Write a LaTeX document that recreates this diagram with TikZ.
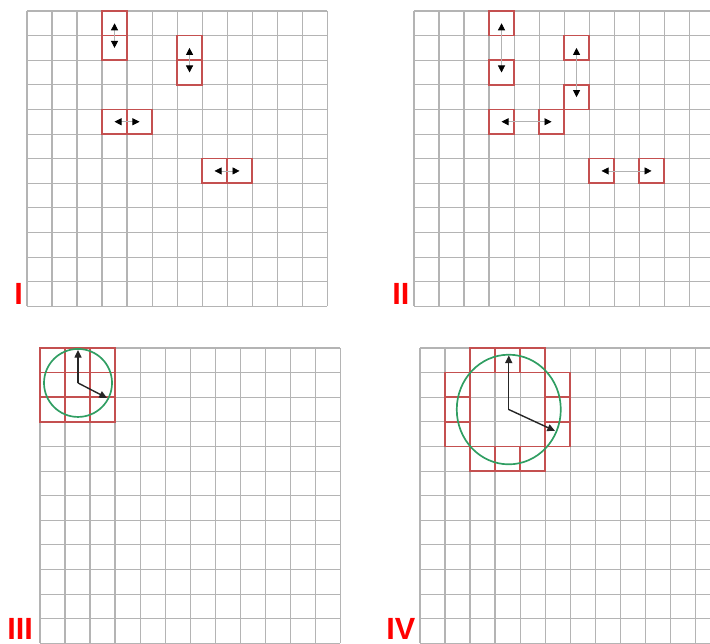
\documentclass[tikz,border=0pt]{standalone}
\usepackage{fontspec}
\setsansfont{Liberation Sans}
\usetikzlibrary{positioning,arrows.meta}
\definecolor{gridgray}{RGB}{180,180,180}
\definecolor{boxred}{RGB}{196,80,80}
\definecolor{ringgreen}{RGB}{48,158,98}
\definecolor{tagred}{RGB}{255,0,0}

\begin{document}
\begin{tikzpicture}[
  x=0.025cm, y=-0.025cm,
  gridline/.style={draw=gridgray, line width=0.75pt},
  cellbox/.style={draw=boxred, line width=1.2pt, inner sep=0pt, outer sep=0pt,
                  minimum width=0.625cm, minimum height=0.615cm},
  swaparr/.style={{Triangle[color=black, length=5pt, width=5pt]}-{Triangle[color=black, length=5pt, width=5pt]},
                  draw=black!30, line width=0.5pt},
  ring/.style={draw=ringgreen, line width=1.2pt},
  hand/.style={-{Triangle[length=5.5pt, width=5pt]}, draw=black!85, line width=1pt},
  tag/.style={text=tagred, inner sep=0pt, anchor=base west,
              font=\sffamily\bfseries\fontsize{21.8}{22}\selectfont},
  panel/.style={x=0.625cm, y=-0.615cm}
]
\useasboundingbox (0,0) rectangle (710,644);
\clip (0,0) rectangle (710,644);

% panel I
\begin{scope}[shift={(27,11)}, panel]
  \foreach \k in {0,...,12} {
    \draw[gridline] (\k,0) -- (\k,12);
    \draw[gridline] (0,\k) -- (12,\k);
  }
  \node[cellbox] (aTop)   at (3.5,0.5) {};
  \node[cellbox] (aBot)   at (3.5,1.5) {};
  \node[cellbox] (bTop)   at (6.5,1.5) {};
  \node[cellbox] (bBot)   at (6.5,2.5) {};
  \node[cellbox] (cLeft)  at (3.5,4.5) {};
  \node[cellbox] (cRight) at (4.5,4.5) {};
  \node[cellbox] (dLeft)  at (7.5,6.5) {};
  \node[cellbox] (dRight) at (8.5,6.5) {};
  \draw[swaparr] (aTop.center)  -- (aBot.center);
  \draw[swaparr] (bTop.center)  -- (bBot.center);
  \draw[swaparr] (cLeft.center) -- (cRight.center);
  \draw[swaparr] (dLeft.center) -- (dRight.center);
\end{scope}

% panel II
\begin{scope}[shift={(414,11)}, panel]
  \foreach \k in {0,...,12} {
    \draw[gridline] (\k,0) -- (\k,12);
    \draw[gridline] (0,\k) -- (12,\k);
  }
  \node[cellbox] (eTop)   at (3.5,0.5) {};
  \node[cellbox] (eBot)   at (3.5,2.5) {};
  \node[cellbox] (fTop)   at (6.5,1.5) {};
  \node[cellbox] (fBot)   at (6.5,3.5) {};
  \node[cellbox] (gLeft)  at (3.5,4.5) {};
  \node[cellbox] (gRight) at (5.5,4.5) {};
  \node[cellbox] (hLeft)  at (7.5,6.5) {};
  \node[cellbox] (hRight) at (9.5,6.5) {};
  \draw[swaparr] (eTop.center)  -- (eBot.center);
  \draw[swaparr] (fTop.center)  -- (fBot.center);
  \draw[swaparr] (gLeft.center) -- (gRight.center);
  \draw[swaparr] (hLeft.center) -- (hRight.center);
\end{scope}

% panel III
\begin{scope}[shift={(40,348)}, panel]
  \foreach \k in {0,...,12} {
    \draw[gridline] (\k,0) -- (\k,12);
    \draw[gridline] (0,\k) -- (12,\k);
  }
  \foreach \cc in {0,1,2}
    \foreach \rr in {0,1,2}
      \node[cellbox] (s\cc\rr) at (\cc+0.5,\rr+0.5) {};
  \coordinate (hubS)  at (1.52,1.42);
  \coordinate (longS) at (1.52,0.08);
  \coordinate (shortS) at (2.68,2.03);
  \draw[ring] (hubS) circle[radius=0.85cm];
  \draw[hand] (hubS) -- (longS);
  \draw[hand] (hubS) -- (shortS);
\end{scope}

% panel IV
\begin{scope}[shift={(420,348)}, panel]
  \foreach \k in {0,...,12} {
    \draw[gridline] (\k,0) -- (\k,12);
    \draw[gridline] (0,\k) -- (12,\k);
  }
  \foreach \cc/\rr in {2/0,3/0,4/0,1/1,5/1,1/2,5/2,1/3,5/3,2/4,3/4,4/4}
    \node[cellbox] (t\cc\rr) at (\cc+0.5,\rr+0.5) {};
  \coordinate (hubT)   at (3.55,2.5);
  \coordinate (longT)  at (3.55,0.3);
  \coordinate (shortT) at (5.4,3.37);
  \draw[ring] (hubT) ellipse[x radius=1.3cm, y radius=1.37cm];
  \draw[hand] (hubT) -- (longT);
  \draw[hand] (hubT) -- (shortT);
\end{scope}

% panel tags
\node[tag] (tagI)   at (14,304)  {I};
\node[tag] (tagII)  at (392,304) {II};
\node[tag] (tagIII) at (7,639)   {III};
\node[tag] (tagIV)  at (386,639) {IV};
\end{tikzpicture}
\end{document}
